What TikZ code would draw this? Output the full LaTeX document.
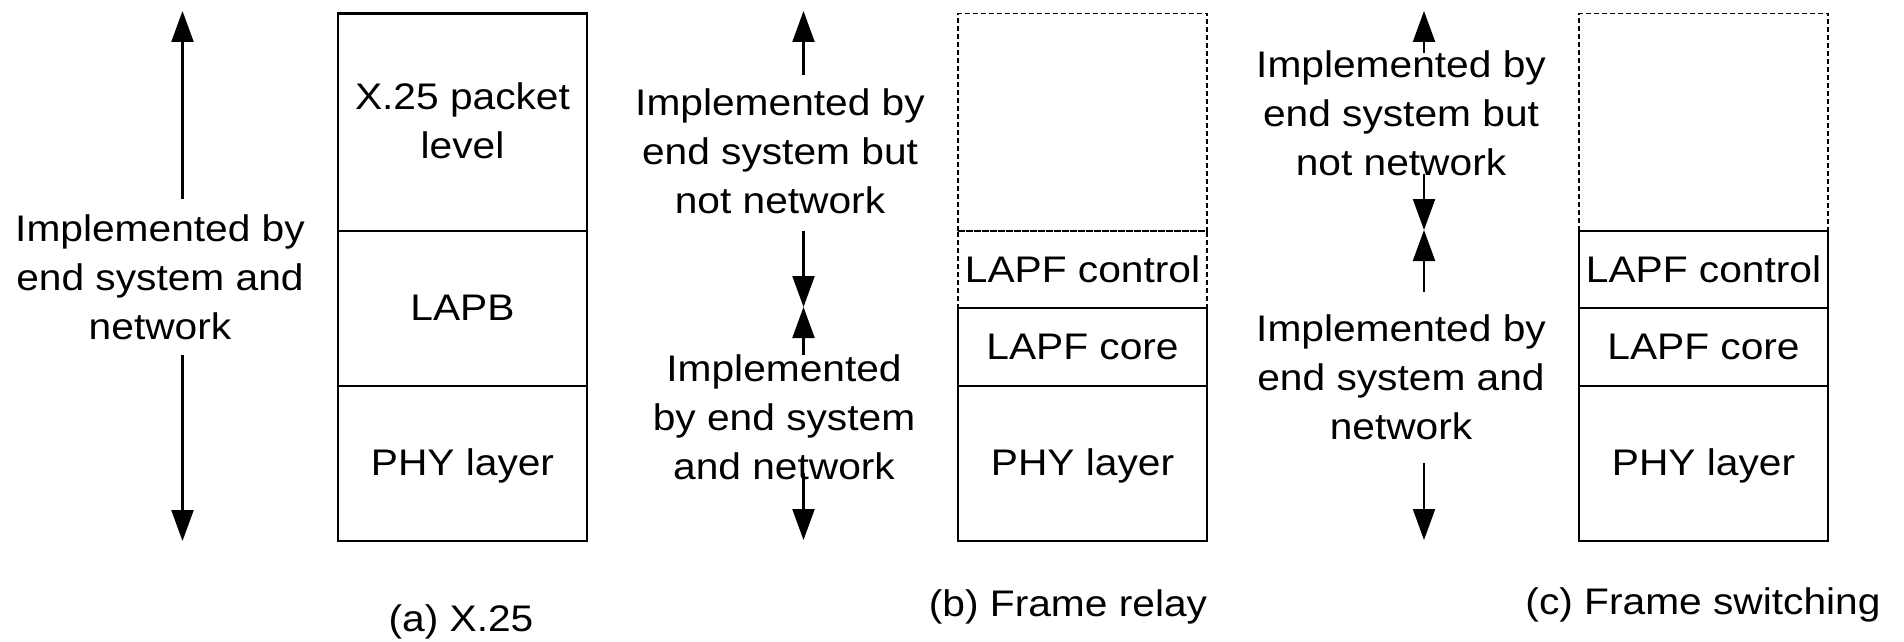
\documentclass[tikz,border=0pt]{standalone}
\usepackage{fontspec}
\setmainfont{Liberation Sans}[FakeStretch=1.1]
\usetikzlibrary{arrows.meta}
\begin{document}
\begin{tikzpicture}[x=1pt,y=-1pt,
  layer/.style={draw, line width=2.2pt, minimum width=249pt, inner sep=0pt, outer sep=0pt},
  dlayer/.style={layer, line width=1.8pt, dash pattern=on 5pt off 3pt},
  txt/.style={font=\fontsize{37pt}{49pt}\selectfont, align=center, anchor=base, inner sep=0pt},
  arr/.style={line width=2.2pt, -{Triangle[width=22pt,length=31pt]}}]
\useasboundingbox (0,0) rectangle (1904,642);

% ---------- (a) X.25 ----------
\node[layer, minimum height=217.5pt] (aPkt)  at (462.5,122.25) {};
\node[layer, minimum height=155pt]   (aLapb) at (462.5,308.5) {};
\node[layer, minimum height=155pt]   (aPhy)  at (462.5,463.5) {};
\node[txt] (aPktT)  at (462.5,158) {X.25 packet\\level};
\node[txt] (aLapbT) at (462.5,320) {LAPB};
\node[txt] (aPhyT)  at (462.5,475.5) {PHY layer};

\coordinate (aTop) at (182.5,11);
\coordinate (aUp)  at (182.5,199);
\coordinate (aLo)  at (182.5,355);
\coordinate (aBot) at (182.5,541);
\draw[arr] (aUp) -- (aTop);
\draw[arr] (aLo) -- (aBot);
\node[txt] (aLbl) at (160,339) {Implemented by\\end system and\\network};
\node[txt] (aCap) at (461,631) {(a) X.25};

% ---------- (b) Frame relay ----------
\node[dlayer, minimum height=217.5pt] (bUpper) at (1082.5,122.25) {};
\node[dlayer, minimum height=77pt]    (bCtl)   at (1082.5,269.5) {};
\node[layer,  minimum height=78pt]    (bCore)  at (1082.5,347) {};
\node[layer,  minimum height=155pt]   (bPhy)   at (1082.5,463.5) {};
\node[txt] (bCtlT)  at (1082.5,282) {LAPF control};
\node[txt] (bCoreT) at (1082.5,359.5) {LAPF core};
\node[txt] (bPhyT)  at (1082.5,475.5) {PHY layer};

\coordinate (bTop)  at (803.5,11);
\coordinate (bA)    at (803.5,75.5);
\coordinate (bB)    at (803.5,231);
\coordinate (bMid)  at (803.5,307);
\coordinate (bC)    at (803.5,355);
\coordinate (bD)    at (803.5,473);
\coordinate (bBot)  at (803.5,540);
\draw[arr] (bA) -- (bTop);
\draw[arr] (bB) -- (bMid);
\draw[arr] (bC) -- (bMid);
\draw[arr] (bD) -- (bBot);
\node[txt] (bLblU) at (780,213.5) {Implemented by\\end system but\\not network};
\node[txt] (bLblL) at (784,479.5) {Implemented\\by end system\\and network};
\node[txt] (bCap) at (1068,616) {(b) Frame relay};

% ---------- (c) Frame switching ----------
\node[dlayer, minimum height=217.5pt] (cUpper) at (1703.5,122.25) {};
\node[layer,  minimum height=77pt]    (cCtl)   at (1703.5,269.5) {};
\node[layer,  minimum height=78pt]    (cCore)  at (1703.5,347) {};
\node[layer,  minimum height=155pt]   (cPhy)   at (1703.5,463.5) {};
\node[txt] (cCtlT)  at (1703.5,282) {LAPF control};
\node[txt] (cCoreT) at (1703.5,359.5) {LAPF core};
\node[txt] (cPhyT)  at (1703.5,475.5) {PHY layer};

\coordinate (cTop)  at (1424,11);
\coordinate (cA)    at (1424,53);
\coordinate (cB)    at (1424,173.5);
\coordinate (cMid)  at (1424,230);
\coordinate (cC)    at (1424,292);
\coordinate (cD)    at (1424,463);
\coordinate (cBot)  at (1424,540);
\draw[arr] (cA) -- (cTop);
\draw[arr] (cB) -- (cMid);
\draw[arr] (cC) -- (cMid);
\draw[arr] (cD) -- (cBot);
\node[txt] (cLblU) at (1401,175) {Implemented by\\end system but\\not network};
\node[txt] (cLblL) at (1401,439) {Implemented by\\end system and\\network};
\node[txt] (cCap) at (1703,614) {(c) Frame switching};
\end{tikzpicture}
\end{document}
